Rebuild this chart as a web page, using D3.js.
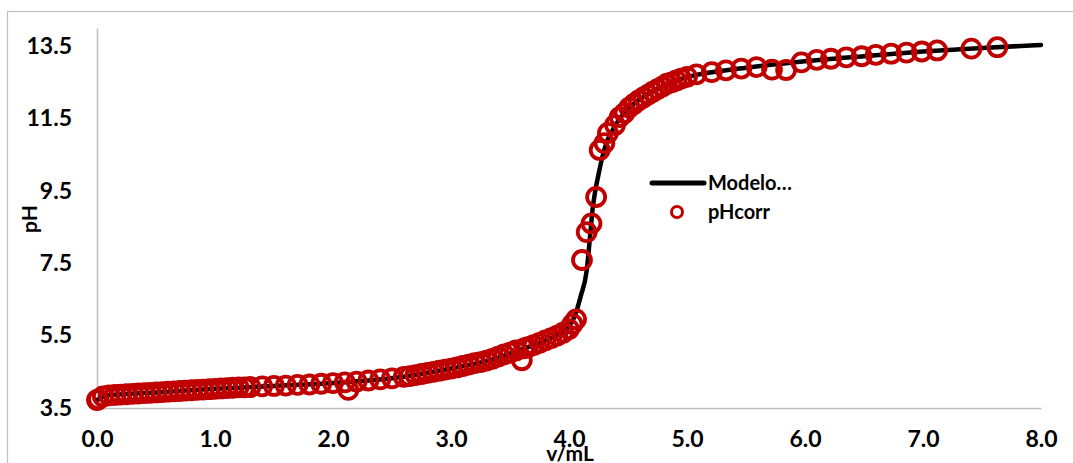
<!DOCTYPE html>
<html>
<head>
<meta charset="utf-8">
<script src="https://cdn.jsdelivr.net/npm/d3@7"></script>
<style>
  html, body { margin: 0; padding: 0; background: #fff; }
  svg { display: block; }
  text { font-family: Lato, "Open Sans", sans-serif; font-weight: 700; fill: #000; }
</style>
</head>
<body>
<svg id="chart" width="1073" height="463"></svg>
<script>
// ---- data ----
const xTicks = [0, 1, 2, 3, 4, 5, 6, 7, 8];
const yTicks = [3.5, 5.5, 7.5, 9.5, 11.5, 13.5];

const modelV  = [0, 0.05, 0.1, 0.5, 1.0, 1.5, 2.0, 2.5, 3.0, 3.3, 3.6, 3.8, 3.9, 4.0, 4.05, 4.1, 4.15, 4.18, 4.2, 4.22, 4.25, 4.28, 4.32, 4.36, 4.4, 4.45, 4.5, 4.6, 4.8, 5.0, 5.5, 6.0, 6.5, 7.0, 7.5, 8.0];
const modelPH = [3.72, 3.80, 3.85, 3.93, 4.03, 4.11, 4.19, 4.32, 4.59, 4.80, 5.12, 5.37, 5.52, 5.75, 6.05, 6.6, 7.3, 8.3, 9.0, 9.45, 9.95, 10.4, 10.85, 11.12, 11.35, 11.58, 11.76, 12.03, 12.4, 12.64, 12.9, 13.08, 13.22, 13.35, 13.45, 13.53];

const dataV = [
  0.00, 0.01, 0.05, 0.10, 0.15, 0.20, 0.25, 0.30, 0.35, 0.40, 0.45, 0.50, 0.55, 0.60, 0.65, 0.70, 0.75, 0.80, 0.85, 0.90, 0.95, 1.00, 1.05, 1.10, 1.15, 1.20, 1.25, 1.30,
  1.40, 1.50, 1.60, 1.70, 1.80, 1.90, 2.00, 2.10, 2.13, 2.20, 2.30, 2.40, 2.50, 2.60,
  2.65, 2.70, 2.75, 2.80, 2.85, 2.90, 2.95, 3.00, 3.05, 3.10, 3.15, 3.20, 3.25, 3.30, 3.35, 3.40, 3.45, 3.50, 3.55, 3.60, 3.62, 3.65, 3.70, 3.75, 3.80, 3.85, 3.90, 3.95, 4.00, 4.03, 4.06,
  4.11, 4.15, 4.19, 4.23, 4.26, 4.30, 4.33, 4.39, 4.43, 4.47,
  4.51, 4.55, 4.59, 4.63, 4.67, 4.71, 4.75, 4.79, 4.83, 4.87, 4.91, 4.95, 5.00,
  5.08, 5.21, 5.33, 5.46, 5.59, 5.72, 5.84, 5.97, 6.10, 6.22, 6.35, 6.48, 6.60, 6.73, 6.86, 6.99, 7.12, 7.41, 7.63
];
const dataPH = [
  3.72, 3.74, 3.82, 3.85, 3.86, 3.87, 3.88, 3.89, 3.90, 3.91, 3.92, 3.93, 3.94, 3.95, 3.96, 3.97, 3.98, 3.99, 4.00, 4.01, 4.02, 4.03, 4.04, 4.05, 4.06, 4.07, 4.07, 4.08,
  4.10, 4.11, 4.12, 4.14, 4.15, 4.17, 4.19, 4.21, 4.00, 4.23, 4.26, 4.29, 4.32, 4.36,
  4.38, 4.41, 4.44, 4.47, 4.50, 4.53, 4.56, 4.59, 4.62, 4.66, 4.70, 4.74, 4.77, 4.81, 4.86, 4.92, 4.98, 5.03, 5.09, 4.82, 5.15, 5.18, 5.24, 5.30, 5.37, 5.43, 5.50, 5.58, 5.68, 5.82, 5.95,
  7.59, 8.36, 8.60, 9.33, 10.63, 10.82, 11.10, 11.32, 11.54, 11.65,
  11.80, 11.90, 12.00, 12.08, 12.16, 12.24, 12.31, 12.38, 12.46, 12.50, 12.55, 12.60, 12.65,
  12.72, 12.78, 12.83, 12.88, 12.92, 12.85, 12.84, 13.05, 13.12, 13.15, 13.19, 13.22, 13.26, 13.29, 13.32, 13.35, 13.38, 13.43, 13.47
];

const seriesNames = ["Modelo\u2026", "pHcorr"];
const xTitle = "v/mL";
const yTitle = "pH";

// ---- drawing ----
const svg = d3.select("#chart");
const red = "#C00000";
const axisGray = "#BFBFBF";
const font = "Lato, 'Open Sans', sans-serif";

// chart-area border
svg.append("rect")
  .attr("x", 7.5).attr("y", 11.5)
  .attr("width", 1200).attr("height", 600)
  .attr("fill", "none").attr("stroke", "#BFBFBF").attr("stroke-width", 1.2);

const x = d3.scaleLinear().domain([0, 8]).range([97, 1041]);
const y = d3.scaleLinear().domain([3.5, 14]).range([408, 28]);

const yAxis = svg.append("g")
  .attr("transform", `translate(${x(0)},0)`)
  .call(d3.axisLeft(y).tickValues(yTicks).tickSize(0).tickSizeOuter(0).tickPadding(25).tickFormat(d3.format(".1f")));
yAxis.select(".domain").attr("stroke", axisGray).attr("stroke-width", 1.5);
yAxis.selectAll("text").style("font-size", "23px").style("font-family", font).style("font-weight", 700).attr("fill", "#000");

const xAxis = svg.append("g")
  .attr("transform", `translate(0,${y(3.5)})`)
  .call(d3.axisBottom(x).tickValues(xTicks).tickSize(0).tickSizeOuter(0).tickPadding(23).tickFormat(d3.format(".1f")));
xAxis.select(".domain").attr("stroke", axisGray).attr("stroke-width", 1.5);
xAxis.selectAll("text").style("font-size", "23px").style("font-family", font).style("font-weight", 700).attr("fill", "#000");

// model line
const model = modelV.map((v, i) => [v, modelPH[i]]);
svg.append("path")
  .datum(model)
  .attr("fill", "none")
  .attr("stroke", "#000")
  .attr("stroke-width", 4.5)
  .attr("stroke-linecap", "round")
  .attr("d", d3.line().x(d => x(d[0])).y(d => y(d[1])).curve(d3.curveMonotoneX));

// data markers
const pts = dataV.map((v, i) => [v, dataPH[i]]);
svg.append("g").selectAll("circle")
  .data(pts).join("circle")
  .attr("cx", d => x(d[0]))
  .attr("cy", d => y(d[1]))
  .attr("r", 9)
  .attr("fill", "none")
  .attr("stroke", red)
  .attr("stroke-width", 3.8);

// axis titles
svg.append("text")
  .attr("transform", "translate(37,219) rotate(-90)")
  .attr("text-anchor", "middle")
  .style("font-size", "21px")
  .text(yTitle);

svg.append("text")
  .attr("x", 570).attr("y", 461)
  .attr("text-anchor", "middle")
  .style("font-size", "21px")
  .text(xTitle);

// legend
const lg = svg.append("g");
lg.append("line")
  .attr("x1", 652).attr("x2", 704)
  .attr("y1", 183).attr("y2", 183)
  .attr("stroke", "#000").attr("stroke-width", 5).attr("stroke-linecap", "round");
lg.append("text")
  .attr("x", 708).attr("y", 190)
  .style("font-size", "20px")
  .text(seriesNames[0]);
lg.append("circle")
  .attr("cx", 677).attr("cy", 212).attr("r", 5.5)
  .attr("fill", "none").attr("stroke", red).attr("stroke-width", 3);
lg.append("text")
  .attr("x", 708).attr("y", 219)
  .style("font-size", "20px")
  .text(seriesNames[1]);
</script>
</body>
</html>
